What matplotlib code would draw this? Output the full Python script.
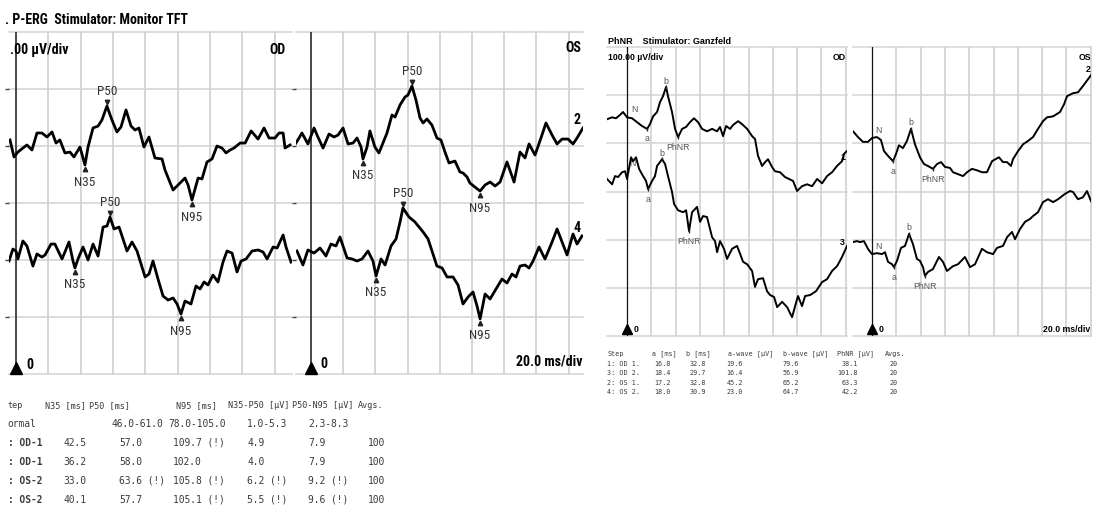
import numpy as np
import matplotlib
matplotlib.use("Agg")
import matplotlib.pyplot as plt
from matplotlib import font_manager

# ======================= DATA =======================
# ---- P-ERG (Stimulator: Monitor TFT), latency [ms], amplitude [µV] rel. to trace baseline
perg_od1_t = [-3.7, -1.2, 1.2, 4.3, 6.8, 9.9, 13.0, 16.1, 19.2, 22.3, 24.8, 27.2, 30.3, 33.4, 35.9,
              39.6, 42.7, 44.6, 47.7, 50.8, 53.2, 56.3, 59.4, 62.5, 65.0, 68.1, 71.2, 73.7, 76.1,
              79.2, 82.3, 86.0, 90.4, 92.2, 97.2, 100.3, 104.6, 106.5, 108.9, 112.7, 115.1, 118.2,
              121.3, 124.4, 127.5, 130.0, 132.5, 134.9, 138.7, 141.8, 145.5, 149.8, 153.5, 156.6,
              160.3, 162.8, 165.3, 166.5, 169.6]
perg_od1_uv = [0.53, -0.96, -0.53, -0.18, 0.09, -0.35, 1.14, 1.14, 0.79, 1.23, 0.26, 0.53, -0.61, -0.53,
               -0.96, -0.09, -1.67, -0.09, 1.58, 1.75, 2.28, 3.51, 2.28, 1.23, 1.67, 3.16, 1.75, 1.40,
               1.58, -0.09, 0.79, -1.05, -1.14, -2.10, -3.86, -3.42, -2.81, -3.42, -4.74, -2.81, -2.89,
               -1.40, -1.14, 0.00, -0.18, -0.61, -0.35, -0.18, 0.26, 0.26, 1.32, 0.61, 1.58, 0.70,
               0.70, 1.14, 1.14, -0.18, 0.09]

perg_od2_t = [-4.3, -1.9, 0.0, 1.2, 4.3, 6.8, 10.5, 13.0, 16.1, 18.0, 21.7, 24.1, 28.5, 30.3, 32.8,
              35.3, 36.5, 38.4, 41.5, 44.6, 47.7, 50.8, 53.9, 56.3, 58.2, 60.7, 63.8, 68.7, 71.8,
              74.9, 79.9, 82.3, 84.8, 87.9, 91.0, 94.1, 97.2, 99.7, 102.1, 104.6, 108.3, 111.4,
              113.9, 116.4, 118.8, 121.9, 125.0, 128.1, 130.6, 133.7, 136.8, 139.3, 142.4, 146.1,
              149.8, 152.9, 155.4, 159.1, 161.6, 165.3, 167.1, 170.2]
perg_od2_uv = [-0.09, 0.96, 0.79, 0.09, 1.67, 1.23, -0.53, 0.53, 0.26, 0.44, 1.40, 1.40, 0.09, 0.70, 1.58,
               -0.09, -0.70, 0.09, 1.14, 0.00, 1.40, 0.35, 2.89, 2.98, 3.77, 2.72, 2.89, 0.79, 1.58,
               0.79, -1.49, -1.23, -0.09, -1.67, -3.16, -3.51, -3.33, -3.86, -4.74, -3.60, -3.86, -2.28,
               -2.54, -1.93, -2.19, -1.32, -1.93, -0.18, 0.79, 0.61, -1.05, -0.09, 0.09, 0.79,
               0.88, 0.70, 0.09, 1.14, 1.05, 2.19, 1.14, -0.18]

perg_os1_t = [-9.3, -5.6, -1.9, 1.9, 4.3, 7.5, 11.2, 14.3, 16.8, 19.9, 23.0, 26.1, 28.6, 31.1, 32.3,
              34.8, 36.6, 39.7, 42.2, 47.2, 50.3, 52.2, 55.3, 58.4, 60.2, 62.7, 65.2, 67.7, 69.6,
              72.0, 75.1, 78.2, 80.7, 83.2, 85.7, 89.4, 92.5, 94.4, 96.9, 98.7, 101.8, 105.0, 108.1,
              111.2, 114.3, 117.4, 121.7, 126.1, 129.8, 132.9, 135.4, 139.1, 142.8, 145.9, 149.7,
              152.8, 155.9, 159.6, 162.7, 165.2, 168.9]
perg_os1_uv = [0.26, 1.14, 0.18, 1.58, 0.79, -0.18, 1.05, 0.79, 0.96, 1.58, 0.18, 0.26, 0.70, -0.09, -1.14,
               -0.09, 1.32, -0.09, -0.61, 1.14, 2.72, 2.54, 3.60, 4.30, 4.47, 5.26, 4.03, 2.46, 2.02,
               2.37, 1.84, 0.70, 0.53, -0.53, -1.49, -1.32, -2.28, -2.37, -2.72, -3.25, -3.60, -3.95,
               -3.42, -3.16, -3.51, -3.16, -1.40, -3.16, -0.53, -1.05, 0.18, -0.79, 0.70, 2.02, 0.96,
               0.18, 0.61, 0.61, 0.18, 0.70, 1.58]

perg_os2_t = [-8.7, -5.0, -1.9, 1.9, 5.6, 9.3, 12.4, 15.5, 18.0, 22.4, 25.5, 28.6, 31.7, 35.4, 38.5,
              40.4, 43.5, 46.0, 49.7, 52.8, 55.3, 57.1, 60.9, 64.6, 67.1, 69.6, 72.7, 78.2, 81.4,
              84.5, 88.2, 91.3, 94.4, 97.5, 100.6, 103.1, 105.0, 108.1, 111.2, 114.9, 118.6, 121.7,
              124.8, 127.3, 129.8, 132.9, 135.4, 137.9, 141.6, 145.3, 149.7, 152.8, 155.9, 159.0,
              162.7, 165.2, 168.3]
perg_os2_uv = [0.79, -0.44, 0.88, 0.61, 1.05, 0.35, 1.40, 1.23, 2.02, 0.18, 0.09, -0.09, 0.09, 0.79, -0.09,
               -1.40, 0.09, -0.44, 1.23, 1.84, 3.33, 4.56, 3.77, 3.33, 2.89, 2.46, 1.84, -0.53, -0.70,
               -1.49, -1.49, -2.19, -3.86, -3.25, -2.81, -4.03, -5.17, -2.98, -3.42, -2.54, -1.67, -2.02,
               -1.23, -1.49, -0.53, -0.44, -0.70, -0.09, 1.14, 0.09, 1.58, 2.72, 1.58, 0.44,
               2.28, 1.40, 2.11]

perg_peak_names = ["N35", "P50", "N95"]
perg_peak_sign = [-1, 1, -1]
perg_od1_lat = [42.5, 57.0, 109.7]
perg_od2_lat = [36.2, 58.0, 102.0]
perg_os1_lat = [33.0, 63.6, 105.8]
perg_os2_lat = [40.1, 57.7, 105.1]

perg_head = ["tep", "N35 [ms]", "P50 [ms]", "N95 [ms]", "N35-P50 [µV]", "P50-N95 [µV]", "Avgs."]
perg_normal = ["ormal", "", "46.0-61.0", "78.0-105.0", "1.0-5.3", "2.3-8.3", ""]
perg_rows = [
    [": OD-1", "42.5", "57.0", "109.7 (!)", "4.9", "7.9", "100"],
    [": OD-1", "36.2", "58.0", "102.0", "4.0", "7.9", "100"],
    [": OS-2", "33.0", "63.6 (!)", "105.8 (!)", "6.2 (!)", "9.2 (!)", "100"],
    [": OS-2", "40.1", "57.7", "105.1 (!)", "5.5 (!)", "9.6 (!)", "100"],
]

# ---- PhNR (Stimulator: Ganzfeld), latency [ms], amplitude [µV] on panel scale
phnr_od1_t = [-16.5, -12.3, -9.1, -5.8, -3.3, 0.0, 4.1, 8.2, 12.3, 16.5, 18.9, 21.4, 24.7, 27.2, 29.6,
              32.1, 33.7, 37.0, 39.5, 42.0, 45.3, 48.6, 51.8, 55.1, 58.4, 61.7, 65.8, 70.0, 74.1,
              76.5, 79.0, 81.5, 84.8, 87.2, 91.4, 94.6, 98.8, 102.9, 105.3, 107.8, 111.1, 113.6,
              116.0, 119.3, 121.8, 125.9, 130.0, 133.3, 136.6, 139.9, 144.0, 148.1, 152.3, 156.4,
              160.5, 164.6, 168.7, 172.8, 176.9, 178.5, 181.0]
phnr_od1_uv = [450, 454, 452, 459, 465, 454, 452, 444, 436, 430, 440, 456, 465, 486, 498,
               517, 498, 465, 430, 413, 430, 434, 444, 452, 444, 430, 425, 430, 425,
               434, 415, 436, 430, 438, 446, 440, 430, 415, 409, 374, 353, 361,
               367, 351, 342, 340, 330, 326, 322, 301, 311, 315, 311, 326,
               317, 332, 340, 353, 363, 378, 384]

phnr_od2_t = [-16.5, -12.3, -9.9, -7.4, -4.1, -1.6, 0.0, 3.3, 4.9, 7.4, 9.9, 13.2, 15.6, 17.3, 20.6,
              23.0, 24.7, 28.8, 31.3, 33.7, 37.0, 38.7, 42.0, 46.1, 48.6, 51.0, 53.5, 57.6, 60.1,
              62.5, 65.8, 70.0, 72.4, 74.1, 76.5, 79.8, 82.3, 86.4, 90.5, 92.2, 95.5, 98.8, 102.9,
              105.3, 107.8, 111.9, 115.2, 117.7, 121.0, 123.5, 127.6, 131.7, 135.8, 138.3, 140.7,
              144.0, 146.5, 150.6, 155.5, 160.5, 164.6, 168.7, 172.8, 176.9, 181.0]
phnr_od2_uv = [326, 315, 332, 330, 340, 342, 326, 371, 363, 371, 347, 332, 322, 305, 322,
               332, 353, 367, 357, 332, 299, 274, 261, 257, 261, 218, 257, 268, 237,
               249, 247, 205, 197, 174, 197, 181, 160, 181, 187, 176, 154, 149, 135,
               102, 118, 120, 93, 85, 81, 60, 71, 60, 39, 62, 83,
               62, 83, 85, 93, 112, 118, 135, 145, 164, 187]

phnr_os1_t = [-15.6, -11.5, -7.4, -3.3, 0.0, 4.1, 7.4, 9.9, 13.2, 17.3, 19.8, 22.2, 25.5, 28.8, 32.1,
              35.4, 39.5, 42.8, 46.1, 50.2, 53.5, 56.8, 60.1, 64.2, 66.7, 70.8, 74.9, 78.2, 82.3,
              86.4, 90.5, 94.6, 98.8, 102.9, 104.5, 107.8, 111.1, 114.4, 116.0, 120.2, 124.3, 128.4,
              132.5, 136.6, 140.7, 144.0, 149.0, 154.7, 158.0, 160.5, 165.4, 169.5, 173.6, 177.7,
              181.0]
phnr_os1_uv = [425, 413, 403, 403, 411, 413, 407, 384, 374, 363, 378, 396, 390, 405, 430,
               398, 371, 357, 353, 347, 357, 361, 351, 349, 340, 336, 332, 340, 347,
               344, 340, 340, 363, 369, 371, 361, 361, 353, 367, 384, 398, 405,
               413, 430, 446, 454, 456, 465, 481, 498, 504, 506, 519, 533,
               544]

phnr_os2_t = [-15.6, -12.3, -9.9, -6.6, -3.3, 0.0, 4.1, 8.2, 10.7, 13.2, 16.5, 18.1, 20.6, 23.9, 27.2,
              30.5, 33.7, 37.0, 39.5, 42.0, 43.6, 46.1, 50.2, 55.1, 58.4, 61.7, 66.7, 70.8, 76.5,
              80.7, 84.8, 90.5, 94.6, 99.6, 102.9, 107.8, 111.1, 115.2, 117.7, 121.8, 125.9, 130.0,
              132.5, 136.6, 140.7, 144.8, 149.0, 153.1, 158.8, 162.9, 165.4, 169.5, 173.6, 176.9,
              180.2]
phnr_os2_uv = [195, 197, 195, 197, 181, 170, 172, 170, 174, 154, 149, 143, 156, 183, 187,
               212, 191, 160, 156, 143, 125, 133, 139, 164, 154, 135, 145, 149, 164,
               143, 149, 181, 174, 170, 183, 187, 205, 216, 201, 222, 237, 243,
               249, 257, 278, 284, 278, 284, 295, 301, 299, 284, 288, 301,
               280]

phnr_peak_names = ["N", "a", "b", "PhNR"]
phnr_peak_sign = [1, -1, 1, -1]
phnr_od1_lat = [0.0, 16.8, 32.8, 42.0]
phnr_od2_lat = [0.0, 18.4, 29.7, 51.0]
phnr_os1_lat = [0.0, 17.2, 32.8, 50.2]
phnr_os2_lat = [0.0, 18.0, 30.9, 43.6]

phnr_head = ["Step", "a [ms]", "b [ms]", "a-wave [µV]", "b-wave [µV]", "PhNR [µV]", "Avgs."]
phnr_rows = [
    ["1: OD 1.", "16.8", "32.8", "19.6", "79.6", "38.1", "20"],
    ["3: OD 2.", "18.4", "29.7", "16.4", "56.9", "101.8", "20"],
    ["2: OS 1.", "17.2", "32.8", "45.2", "65.2", "63.3", "20"],
    ["4: OS 2.", "18.0", "30.9", "23.0", "64.7", "42.2", "20"],
]

# ======================= LAYOUT / STYLE =======================
W, H = 1095, 510
fig = plt.figure(figsize=(W / 100, H / 100), dpi=100)
fig.patch.set_facecolor("white")

ttf = font_manager.fontManager.ttflist
names = {f.name for f in ttf}
NARROW_KW, NSCALE = None, 1.0
for nm in ["Liberation Sans Narrow", "Roboto Condensed", "Open Sans Condensed", "Arial Narrow"]:
    if nm in names:
        NARROW_KW = dict(family=nm)
        break
if NARROW_KW is None:
    for pref in ["Roboto", "Open Sans", "Noto Sans", "DejaVu Sans", "Lato", "Inter"]:
        hit = [f for f in ttf if f.name == pref and "condensed" in str(f.stretch)]
        if hit:
            NARROW_KW = dict(family=pref, stretch=hit[0].stretch)
            break
if NARROW_KW is None:
    NARROW_KW = dict(family="Liberation Sans")
    NSCALE = 0.86
SANS = "Liberation Sans"
MONO = "DejaVu Sans Mono"


def rect(x0, y0, x1, y1):
    return [x0 / W, 1 - y1 / H, (x1 - x0) / W, (y1 - y0) / H]


def ftext(x, y, s, **kw):
    fig.text(x / W, 1 - y / H, s, va="center", **kw)


def ntext(x, y, s, size, **kw):
    ftext(x, y, s, fontsize=size * NSCALE, fontweight="bold", **NARROW_KW, **kw)


def make_axes(r, xlim, ylim, xstep, ystep, xmax_grid, gridc, zero_c, zero_lw, ticks=False):
    ax = fig.add_axes(r)
    ax.set_xlim(*xlim)
    ax.set_ylim(*ylim)
    for s in ax.spines.values():
        s.set_visible(False)
    ax.set_xticks([])
    if ticks:
        ax.set_yticks(np.arange(ylim[0] + ystep, ylim[1], ystep))
        ax.tick_params(axis="y", length=3, width=1.0, color="#444444", labelleft=False)
    else:
        ax.set_yticks([])
    for g in np.arange(xstep, xmax_grid + 0.1, xstep):
        ax.axvline(g, color=gridc, lw=1.3, zorder=1, clip_on=False)
    for g in np.arange(ylim[0], ylim[1] + 0.1, ystep):
        ax.axhline(g, color=gridc, lw=1.1, zorder=1, clip_on=False)
    ax.axvline(0, color=zero_c, lw=zero_lw, zorder=2)
    return ax


def peak_point(t, v, lat, sign, win=2.5):
    t = np.asarray(t)
    v = np.asarray(v)
    m = np.abs(t - lat) <= win
    if not m.any():
        return lat, float(np.interp(lat, t, v))
    idx = np.where(m)[0]
    j = idx[np.argmax(v[idx] * sign)]
    return t[j], v[j]


# ---------------- P-ERG panels ----------------
perg_specs = [
    (rect(9, 33, 292, 375), (-4.3, 170.8),
     [(perg_od1_t, perg_od1_uv, perg_od1_lat, 20), (perg_od2_t, perg_od2_uv, perg_od2_lat, 10)]),
    (rect(296, 33, 583, 375), (-9.3, 168.9),
     [(perg_os1_t, perg_os1_uv, perg_os1_lat, 20), (perg_os2_t, perg_os2_uv, perg_os2_lat, 10)]),
]
for r, xl, traces in perg_specs:
    ax = make_axes(r, xl, (0, 30), 20, 5, 160, "#d2d2d2", "#3a3a3a", 1.3, ticks=True)
    for t, v, lats, off in traces:
        vv = np.asarray(v) + off
        ax.plot(t, vv, color="black", lw=2.0, solid_joinstyle="round", zorder=4)
        for name, sg, lat in zip(perg_peak_names, perg_peak_sign, lats):
            pt, pv = peak_point(t, vv, lat, sg)
            ax.plot(pt, pv + sg * 0.35, marker="v" if sg > 0 else "^", ms=3.2,
                    color="#222222", zorder=5, clip_on=False)
            ax.annotate(name, (pt, pv), xytext=(0, 11.5 * sg), textcoords="offset points",
                        ha="center", va="center", fontsize=9.5 * NSCALE, color="#333333",
                        **NARROW_KW)
    ax.plot(0, 0.55, marker="^", ms=9, color="black", clip_on=False, zorder=6)

ntext(5, 20, ". P-ERG  Stimulator: Monitor TFT", 10)
ntext(10, 50, ".00 µV/div", 10)
ntext(286, 50, "OD", 10, ha="right")
ntext(581, 48, "OS", 10, ha="right")
ntext(581, 120, "2", 10, ha="right")
ntext(581, 228, "4", 10, ha="right")
ntext(26, 365, "0", 10)
ntext(320, 364, "0", 10)
ntext(583, 361, "20.0 ms/div", 10, ha="right")

# P-ERG table
perg_head_x = [7, 45, 89, 176, 228, 292, 358]
perg_val_x = [7, 63, 112, 168, 247, 308, 368]
perg_row_x = [8, 63, 119, 173, 247, 308, 368]
perg_row_y = [406, 424, 443, 462, 481, 500]
for s, x in zip(perg_head, perg_head_x):
    ftext(x, perg_row_y[0], s, fontsize=6.1, family=MONO, color="#3a3a3a")
tkw = dict(fontsize=6.9, family=MONO, color="#3a3a3a")
for s, x in zip(perg_normal, perg_val_x):
    if s:
        ftext(x, perg_row_y[1], s, **tkw)
for row, y in zip(perg_rows, perg_row_y[2:]):
    for j, (s, x) in enumerate(zip(row, perg_row_x)):
        ftext(x, y, s, fontweight="bold" if j == 0 else "normal", **tkw)

# ---------------- PhNR panels ----------------
phnr_specs = [
    (rect(607, 48, 847, 337), (-16.5, 181.0),
     [(phnr_od1_t, phnr_od1_uv, phnr_od1_lat), (phnr_od2_t, phnr_od2_uv, phnr_od2_lat)]),
    (rect(853, 48, 1091, 337), (-15.6, 180.2),
     [(phnr_os1_t, phnr_os1_uv, phnr_os1_lat), (phnr_os2_t, phnr_os2_uv, phnr_os2_lat)]),
]
label_off = {"N": (5, 6), "a": (0, -6.5), "b": (0, 5), "PhNR": (0, -7)}
for r, xl, traces in phnr_specs:
    ax = make_axes(r, xl, (0, 600), 20, 100, 180, "#d4d4d4", "#111111", 0.9)
    for t, v, lats in traces:
        ax.plot(t, v, color="black", lw=1.4, solid_joinstyle="round", zorder=4)
        for name, sg, lat in zip(phnr_peak_names, phnr_peak_sign, lats):
            pt, pv = peak_point(t, v, lat, sg, win=1.8)
            if name != "N":
                ax.plot(pt, pv, marker="|", ms=3.5, mew=1.0, color="#222222", zorder=5)
            dx, dy = label_off[name]
            ax.annotate(name, (pt, pv), xytext=(dx, dy), textcoords="offset points",
                        ha="center", va="center", fontsize=6.3, family=SANS, color="#555555")
    ax.plot(0, 14, marker="^", ms=7.5, color="black", clip_on=False, zorder=6)

pk = dict(fontweight="bold", family=SANS)
ftext(608, 42, "PhNR    Stimulator: Ganzfeld", fontsize=6.5, **pk)
ftext(608, 57, "100.00 µV/div", fontsize=6.3, **pk)
ftext(846, 57, "OD", fontsize=6.3, ha="right", **pk)
ftext(1091, 57, "OS", fontsize=6.3, ha="right", **pk)
ftext(845, 157, "1", fontsize=6.3, ha="right", **pk)
ftext(845, 243, "3", fontsize=6.3, ha="right", **pk)
ftext(1091, 70, "2", fontsize=6.3, ha="right", **pk)
ftext(634, 330, "0", fontsize=6.3, **pk)
ftext(879, 330, "0", fontsize=6.3, **pk)
ftext(1090, 330, "20.0 ms/div", fontsize=6.3, ha="right", **pk)

# PhNR table
phnr_head_x = [607, 652, 686, 728, 783, 837, 885]
phnr_val_right = [None, 671, 706, 743, 799, 858, 898]
phnr_row_y = [354, 364, 373, 383, 392]
pkw = dict(fontsize=4.9, family=MONO, color="#3a3a3a")
for s, x in zip(phnr_head, phnr_head_x):
    ftext(x, phnr_row_y[0], s, **pkw)
for row, y in zip(phnr_rows, phnr_row_y[1:]):
    ftext(phnr_head_x[0], y, row[0], **pkw)
    for s, xr in zip(row[1:], phnr_val_right[1:]):
        ftext(xr, y, s, ha="right", **pkw)

fig.savefig("out.png", dpi=100, facecolor="white")
